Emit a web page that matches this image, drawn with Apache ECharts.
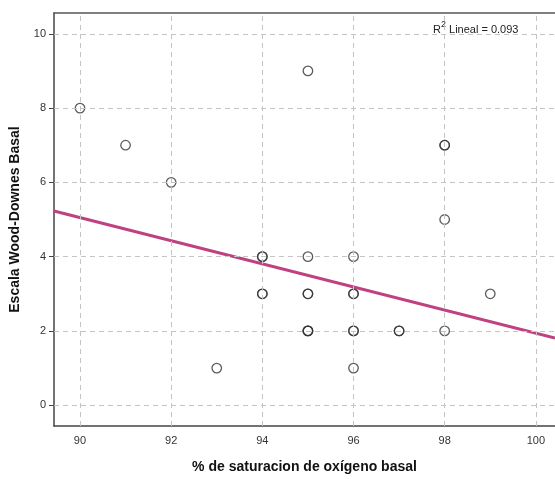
<!DOCTYPE html>
<html><head><meta charset="utf-8">
<script src="https://cdn.jsdelivr.net/npm/echarts@6/dist/echarts.min.js"></script>
<style>html,body{margin:0;padding:0;background:#fff}#c{width:555px;height:479px}</style>
</head><body><div id="c"></div>
<script>
// Observed points (oxygen saturation %, Wood-Downes score); repeated pairs appear bolder
const saturation = [90, 91, 92, 93, 94, 94, 94, 94, 95, 95, 95, 95, 95, 95, 95, 96, 96, 96, 96, 96, 96, 97, 97, 98, 98, 98, 98, 99];
const woodDownes = [8, 7, 6, 1, 4, 4, 3, 3, 9, 4, 3, 3, 2, 2, 2, 4, 3, 3, 2, 2, 1, 2, 2, 7, 7, 5, 2, 3];
// Linear fit line
const fitX = [89.43, 100.42];
const fitY = [5.23, 1.81];
const xTicks = [90, 92, 94, 96, 98, 100];
const yTicks = [0, 2, 4, 6, 8, 10];
const r2Text = '0.093';

const pts = saturation.map((x, i) => [x, woodDownes[i]]);
const fit = fitX.map((x, i) => [x, fitY[i]]);

const chart = echarts.init(document.getElementById('c'));
chart.setOption({
  animation: false,
  backgroundColor: '#fff',
  grid: { left: 54, right: 0, top: 13, bottom: 49 },
  xAxis: [{
    type: 'value', min: 89.43, max: 100.42, interval: 2,
    axisLine: { show: true, onZero: false, lineStyle: { color: '#444', width: 1.5 } },
    axisTick: { show: false },
    axisLabel: { color: '#333', fontSize: 11, fontFamily: 'Liberation Sans', margin: 9,
      customValues: xTicks, formatter: v => String(v) },
    splitLine: { show: false },
    name: '% de saturacion de oxígeno basal', nameLocation: 'middle', nameGap: 34,
    nameTextStyle: { color: '#111', fontSize: 14, fontWeight: 'bold', fontFamily: 'Liberation Sans' }
  }, {
    type: 'value', position: 'top', min: 89.43, max: 100.42,
    axisLine: { show: true, onZero: false, lineStyle: { color: '#555', width: 1.5 } },
    axisTick: { show: false }, axisLabel: { show: false }, splitLine: { show: false }
  }],
  yAxis: {
    type: 'value', min: -0.56, max: 10.56,
    axisLine: { show: true, onZero: false, lineStyle: { color: '#444', width: 1.5 } },
    axisTick: { show: true, length: 5, customValues: yTicks, lineStyle: { color: '#444' } },
    axisLabel: { color: '#333', fontSize: 11, fontFamily: 'Liberation Sans', margin: 8,
      customValues: yTicks, formatter: v => String(v) },
    splitLine: { show: false },
    name: 'Escala Wood-Downes Basal', nameLocation: 'middle', nameGap: 32, nameRotate: 90,
    nameTextStyle: { color: '#111', fontSize: 14, fontWeight: 'bold', fontFamily: 'Liberation Sans' }
  },
  series: [
    {
      type: 'line', silent: true, symbol: 'none', z: 1,
      data: [],
      markLine: {
        silent: true, symbol: 'none', label: { show: false },
        lineStyle: { type: [5, 4], color: '#c4c4c4', width: 1 },
        data: xTicks.map(v => ({ xAxis: v })).concat(yTicks.map(v => ({ yAxis: v })))
      }
    },
    {
      type: 'line', data: fit, symbol: 'none', z: 3,
      lineStyle: { color: '#bf4181', width: 3 }
    },
    {
      type: 'scatter', data: pts, symbol: 'circle', symbolSize: 9.5, z: 4,
      itemStyle: { color: 'rgba(255,255,255,0)', borderColor: '#333', borderWidth: 1.3 }
    }
  ],
  graphic: [
    { type: 'text', left: 433, top: 24, style: { text: 'R', fontSize: 11, fontFamily: 'Liberation Sans', fill: '#222' } },
    { type: 'text', left: 441, top: 20, style: { text: '2', fontSize: 9, fontFamily: 'Liberation Sans', fill: '#222' } },
    { type: 'text', left: 446, top: 24, style: { text: ' Lineal = ' + r2Text, fontSize: 11, fontFamily: 'Liberation Sans', fill: '#222' } }
  ]
});
</script></body></html>
